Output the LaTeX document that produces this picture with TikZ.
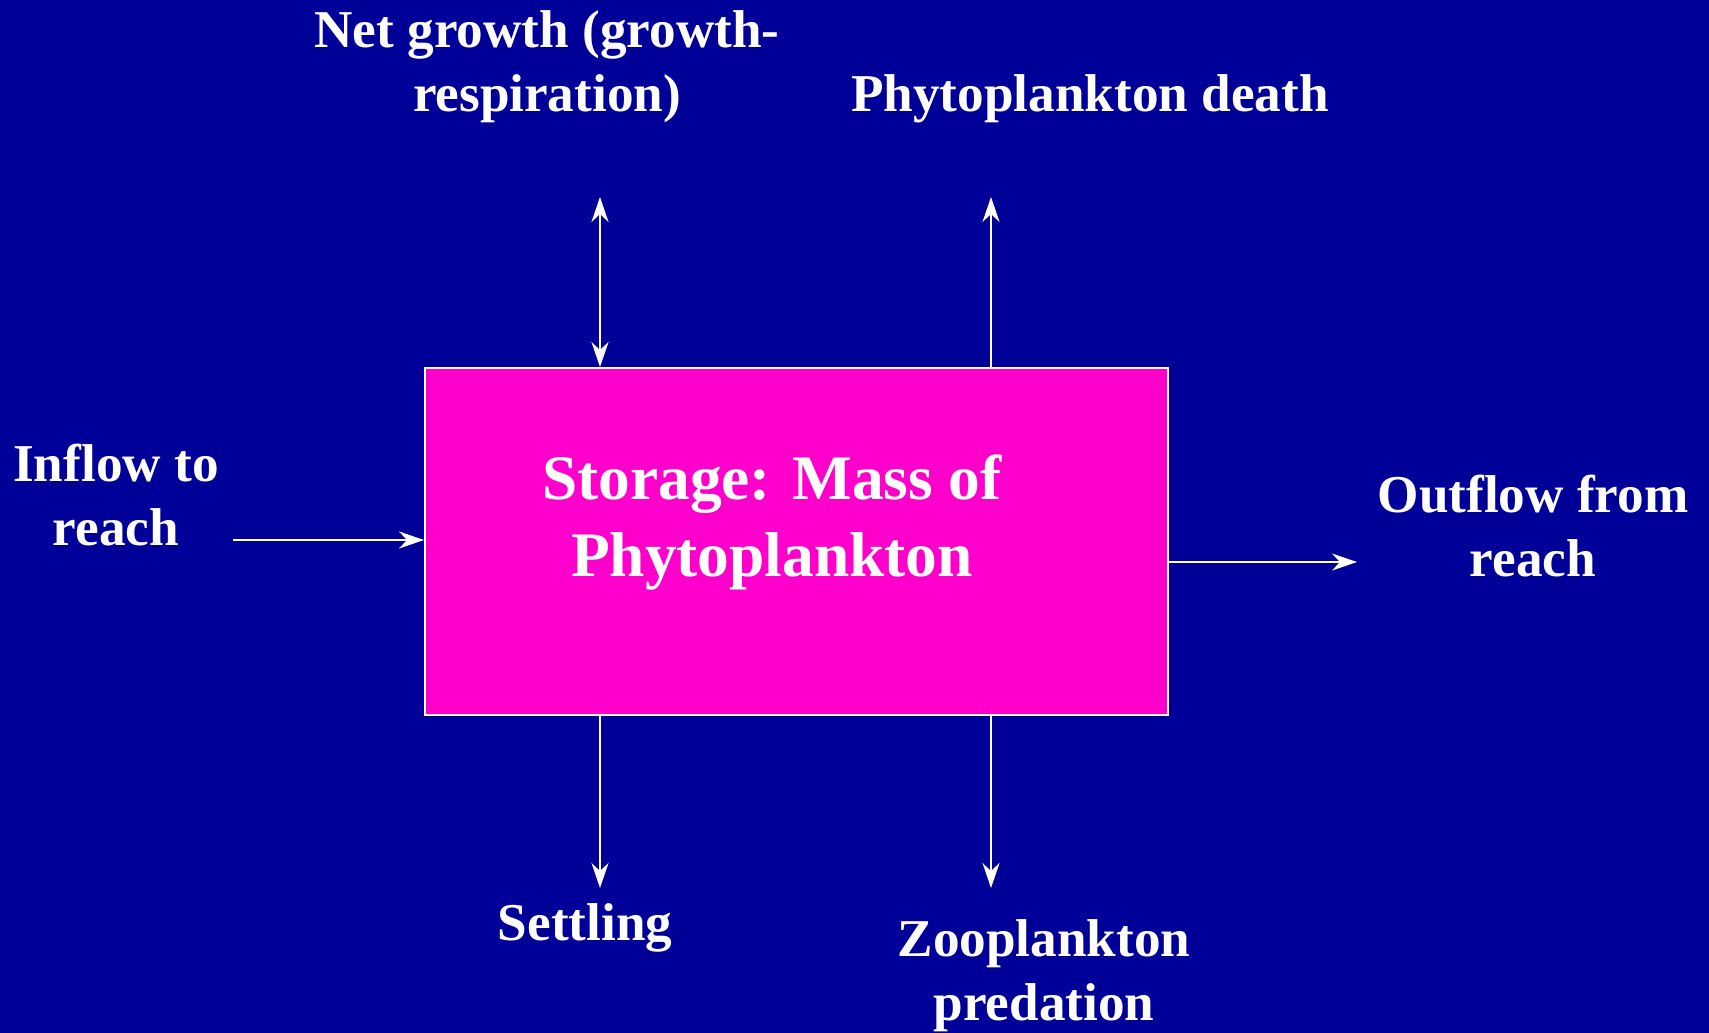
\documentclass[tikz,border=0pt]{standalone}
\usepackage{fontspec}
\setmainfont{Liberation Serif}
\usepackage{xcolor}
\usetikzlibrary{arrows.meta}

\definecolor{slidebg}{RGB}{0,0,153}
\definecolor{storagepink}{RGB}{255,0,204}

\begin{document}
\begin{tikzpicture}[x=0.5pt, y=-0.5pt,
  lbl/.style={white, align=center, font=\fontsize{26.6}{32}\selectfont\bfseries},
  flow/.style={white, line width=1pt, -{Stealth[length=12.5pt, width=8.5pt, inset=4pt]}}]
\fill[slidebg] (0,0) rectangle (1709,1033);
\useasboundingbox (0,0) rectangle (1709,1033);

\node[draw=white, line width=1pt, fill=storagepink, minimum width=371.5pt, minimum height=173.5pt, inner sep=0pt] (storage) at (796.5,541.5) {};
\node[white, align=center, font=\fontsize{31.7}{38.5}\selectfont\bfseries] (storagetext) at (772,523) {Storage: Mass of\\Phytoplankton};

\node[lbl] (growth) at (547,67) {Net growth (growth-\\respiration)};
\node[lbl] (death) at (1090,99) {Phytoplankton death};
\node[lbl] (inflow) at (116,495) {Inflow to\\reach};
\node[lbl] (outflow) at (1533,526) {Outflow from\\reach};
\node[lbl] (settling) at (585,928) {Settling};
\node[lbl] (predation) at (1044,976) {Zooplankton\\predation};

\coordinate (growthtip) at (600,197);
\coordinate (deathtip) at (991,197);
\coordinate (inflowtail) at (233,540);
\coordinate (outflowtip) at (1357,562);
\coordinate (settlingtip) at (600,888);
\coordinate (predationtip) at (991,888);

\draw[flow, {Stealth[length=12.5pt, width=8.5pt, inset=4pt]}-{Stealth[length=12.5pt, width=8.5pt, inset=4pt]}] (growthtip) -- (growthtip |- storage.north);
\draw[flow] (deathtip |- storage.north) -- (deathtip);
\draw[flow] (inflowtail) -- (inflowtail -| storage.west);
\draw[flow] (outflowtip -| storage.east) -- (outflowtip);
\draw[flow] (settlingtip |- storage.south) -- (settlingtip);
\draw[flow] (predationtip |- storage.south) -- (predationtip);

\end{tikzpicture}
\end{document}
